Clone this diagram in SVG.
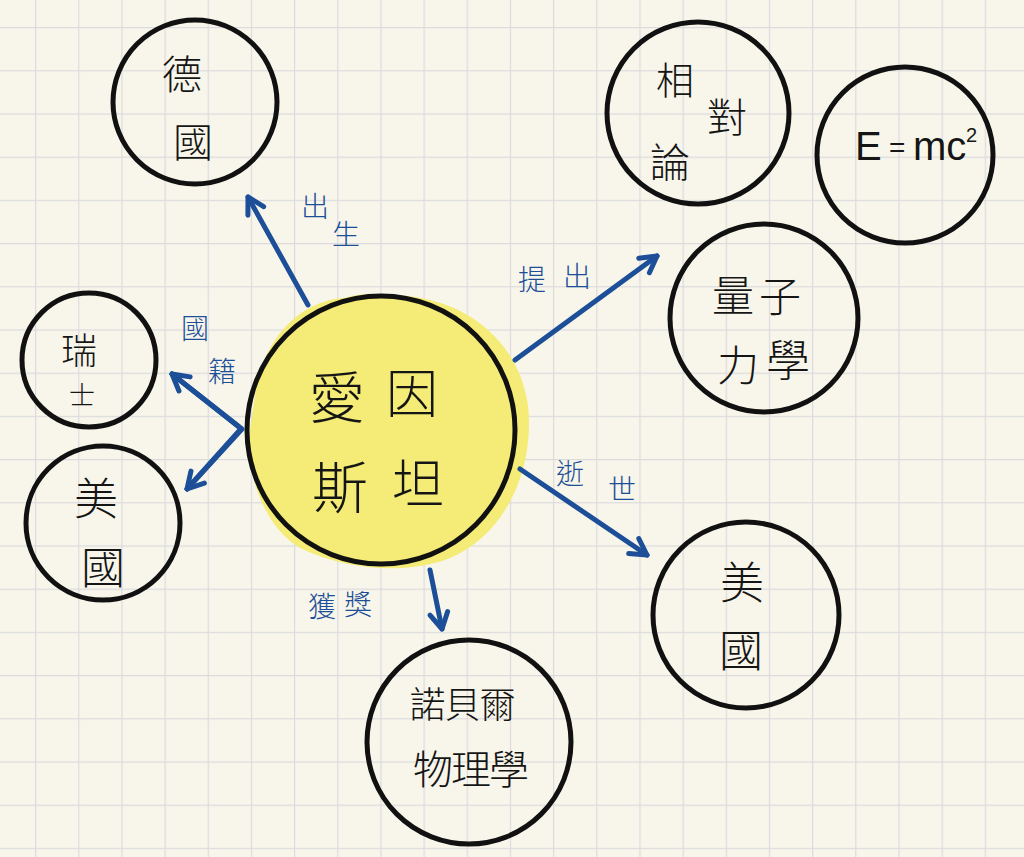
<svg xmlns="http://www.w3.org/2000/svg" width="1024" height="857" viewBox="0 0 1024 857">
<defs>
<pattern id="grid" patternUnits="userSpaceOnUse" x="35" y="27" width="43.17" height="43.2">
<path d="M0 0 V43.2 M0 0 H43.17" stroke="#dcdade" stroke-width="2.4" fill="none"/>
</pattern>
<marker id="ah" markerUnits="userSpaceOnUse" markerWidth="40" markerHeight="40" refX="0" refY="0" viewBox="-20 -20 40 40" orient="auto">
<path d="M-16 -9 L0 0 L-16 9" fill="none" stroke="#1c4f98" stroke-width="5" stroke-linecap="round" stroke-linejoin="round"/>
</marker>
<style>
.node{fill:none;stroke:#111;stroke-width:5}
.t{font-family:"Noto Sans CJK TC","Noto Sans CJK SC",sans-serif;fill:#151515;text-anchor:middle;dominant-baseline:central;font-weight:300}
.lbl{font-family:"Noto Sans CJK TC","Noto Sans CJK SC",sans-serif;fill:#1c4f98;text-anchor:middle;dominant-baseline:central;font-size:28px;font-weight:300}
.arr{fill:none;stroke:#1c4f98;stroke-width:5;stroke-linecap:round;stroke-linejoin:round}
.eq{font-family:"Liberation Sans",sans-serif;fill:#151515;font-weight:300}
</style>
</defs>
<rect width="1024" height="857" fill="#f8f6ea"/>
<rect width="1024" height="857" fill="url(#grid)"/>

<g id="center">
<path d="M255 395 C262 340 300 300 345 298 C360 292 400 293 430 300 C480 312 520 350 528 405 C535 470 505 535 450 558 C410 574 350 572 300 548 C262 525 245 470 250 430 Z" fill="#f4ec76"/>
<circle class="node" cx="381" cy="430" r="134"/>
<text class="t" x="337" y="393" font-size="56">愛</text>
<text class="t" x="412" y="390" font-size="52">因</text>
<text class="t" x="340" y="483" font-size="56">斯</text>
<text class="t" x="418" y="480" font-size="52">坦</text>
</g>

<g id="germany">
<circle class="node" cx="195" cy="102" r="82"/>
<text class="t" x="182" y="72" font-size="40">德</text>
<text class="t" x="193" y="140" font-size="40">國</text>
</g>

<g id="relativity">
<circle class="node" cx="698" cy="113" r="91"/>
<text class="t" x="675" y="77" font-size="38">相</text>
<text class="t" x="727" y="115" font-size="40">對</text>
<text class="t" x="670" y="160" font-size="40">論</text>
</g>

<g id="emc2">
<circle class="node" cx="905" cy="155" r="88"/>
<text class="eq" x="855" y="160" font-size="40">E</text>
<text class="eq" x="889" y="157" font-size="28">=</text>
<text class="eq" x="913" y="160" font-size="40">mc</text>
<text class="eq" x="966" y="142" font-size="20">2</text>
</g>

<g id="quantum">
<circle class="node" cx="764" cy="318" r="94"/>
<text class="t" x="733" y="292" font-size="42">量</text>
<text class="t" x="780" y="293" font-size="42">子</text>
<text class="t" x="738" y="362" font-size="42">力</text>
<text class="t" x="788" y="358" font-size="44">學</text>
</g>

<g id="swiss">
<circle class="node" cx="89" cy="360" r="67"/>
<text class="t" x="79" y="348" font-size="36">瑞</text>
<text class="t" x="82" y="393" font-size="26">士</text>
</g>

<g id="usa-left">
<circle class="node" cx="103" cy="523" r="77"/>
<text class="t" x="96" y="496" font-size="44">美</text>
<text class="t" x="103" y="565" font-size="44">國</text>
</g>

<g id="usa-right">
<circle class="node" cx="746" cy="615" r="93"/>
<text class="t" x="742" y="580" font-size="44">美</text>
<text class="t" x="741" y="648" font-size="44">國</text>
</g>

<g id="nobel">
<circle class="node" cx="469" cy="742" r="102"/>
<text class="t" x="462" y="702" font-size="36" letter-spacing="-1">諾貝爾</text>
<text class="t" x="470" y="767" font-size="40" letter-spacing="-2">物理學</text>
</g>

<g id="connectors">
<line class="arr" x1="308" y1="305" x2="248" y2="197" marker-end="url(#ah)"/>
<polyline class="arr" points="172,374 242,429 187,489"/>
<line class="arr" x1="239" y1="427" x2="172" y2="374" marker-end="url(#ah)"/>
<line class="arr" x1="239" y1="431" x2="187" y2="489" marker-end="url(#ah)"/>
<line class="arr" x1="515" y1="360" x2="657" y2="256" marker-end="url(#ah)"/>
<line class="arr" x1="520" y1="469" x2="647" y2="555" marker-end="url(#ah)"/>
<line class="arr" x1="430" y1="570" x2="442" y2="629" marker-end="url(#ah)"/>
<text class="lbl" x="315" y="205">出</text>
<text class="lbl" x="346" y="233">生</text>
<text class="lbl" x="195" y="327">國</text>
<text class="lbl" x="222" y="370">籍</text>
<text class="lbl" x="532" y="278" font-size="30">提</text>
<text class="lbl" x="577" y="275">出</text>
<text class="lbl" x="570" y="472">逝</text>
<text class="lbl" x="622" y="488">世</text>
<text class="lbl" x="322" y="605" font-size="30">獲</text>
<text class="lbl" x="358" y="603" font-size="30">獎</text>
</g>
</svg>
